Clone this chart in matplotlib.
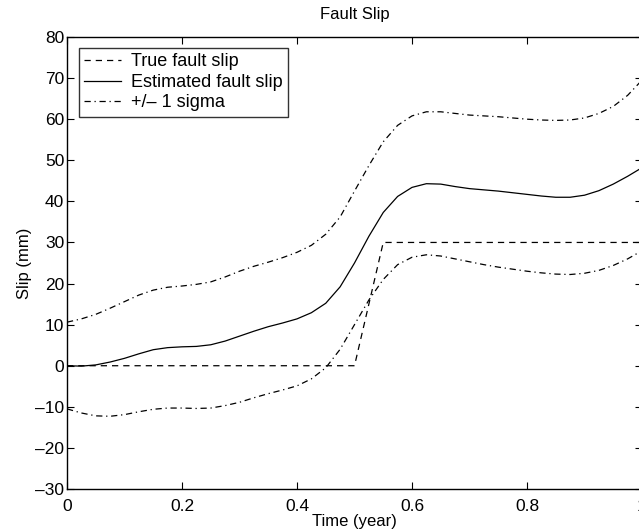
import matplotlib.pyplot as plt

plt.rcParams['font.family'] = ['Liberation Sans', 'DejaVu Sans']

t = [0, 0.025, 0.05, 0.075, 0.1, 0.125, 0.15, 0.175, 0.2, 0.225, 0.25, 0.275,
     0.3, 0.325, 0.35, 0.375, 0.4, 0.425, 0.45, 0.475, 0.5, 0.525, 0.55, 0.575,
     0.6, 0.625, 0.65, 0.675, 0.7, 0.725, 0.75, 0.775, 0.8, 0.825, 0.85, 0.875,
     0.9, 0.925, 0.95, 0.975, 1.0]
est = [0, -0.1, 0.2, 0.9, 1.8, 2.9, 3.9, 4.4, 4.6, 4.7, 5.1, 6.0,
       7.2, 8.4, 9.5, 10.4, 11.4, 12.9, 15.2, 19.2, 25.0, 31.5, 37.3, 41.2,
       43.4, 44.3, 44.2, 43.6, 43.1, 42.8, 42.5, 42.1, 41.7, 41.3, 41.0, 41.0,
       41.5, 42.6, 44.2, 46.1, 48.2]
upper = [10.6, 11.4, 12.5, 14.0, 15.6, 17.2, 18.4, 19.1, 19.4, 19.8, 20.4, 21.6,
         23.0, 24.2, 25.2, 26.3, 27.6, 29.3, 32.0, 36.2, 42.5, 48.7, 54.5, 58.5,
         60.8, 61.8, 61.8, 61.4, 61.0, 60.8, 60.6, 60.3, 60.0, 59.8, 59.7, 59.8,
         60.3, 61.4, 63.1, 65.8, 69.5]
lower = [-10.5, -11.5, -12.2, -12.3, -11.9, -11.2, -10.6, -10.3, -10.3, -10.4, -10.3, -9.7,
         -8.9, -7.8, -6.8, -5.9, -4.9, -3.2, -0.5, 4.0, 10.0, 16.0, 21.0, 24.6,
         26.4, 27.0, 26.7, 26.0, 25.3, 24.6, 24.0, 23.5, 23.0, 22.6, 22.3, 22.2,
         22.5, 23.2, 24.4, 26.0, 28.0]

true_t = [0, 0.5, 0.55, 1.0]
true_slip = [0, 0, 30, 30]

fig = plt.figure(figsize=(6.39, 5.31), dpi=100)
ax = fig.add_axes([67/639, 1 - 489/531, 575/639, 452/531])

ax.plot(true_t, true_slip, 'k--', lw=0.9, dashes=(5, 4), label='True fault slip')
ax.plot(t, est, 'k-', lw=0.9, label='Estimated fault slip')
ax.plot(t, upper, 'k-.', lw=0.9, dashes=(5, 3, 1, 3), label='+/\u2013 1 sigma')
ax.plot(t, lower, 'k-.', lw=0.9, dashes=(5, 3, 1, 3))

ax.set_xlim(0, 1)
ax.set_ylim(-30, 80)
ax.set_xticks([0, 0.2, 0.4, 0.6, 0.8, 1])
ax.set_xticklabels(['0', '0.2', '0.4', '0.6', '0.8', '1'])
ax.set_yticks(range(-30, 81, 10))
ax.set_yticklabels([str(v).replace('-', '\u2013') for v in range(-30, 81, 10)])
ax.tick_params(direction='in', top=True, right=True, length=5, labelsize=12.5)
ax.tick_params(axis='x', pad=7)
ax.tick_params(axis='y', pad=2)
for s in ax.spines.values():
    s.set_linewidth(1.0)

ax.set_xlabel('Time (year)', fontsize=12, labelpad=0.5)
ax.set_ylabel('Slip (mm)', fontsize=12, labelpad=2)
ax.set_title('Fault Slip', fontsize=12, pad=13)

leg = ax.legend(loc='upper left', bbox_to_anchor=(0.021, 0.976), fontsize=13,
                fancybox=False, edgecolor='black', handlelength=2.0,
                borderpad=0.3, labelspacing=0.2, handletextpad=0.6, borderaxespad=0)
leg.get_frame().set_linewidth(1.0)

fig.savefig('out.png', dpi=100, facecolor='white')
